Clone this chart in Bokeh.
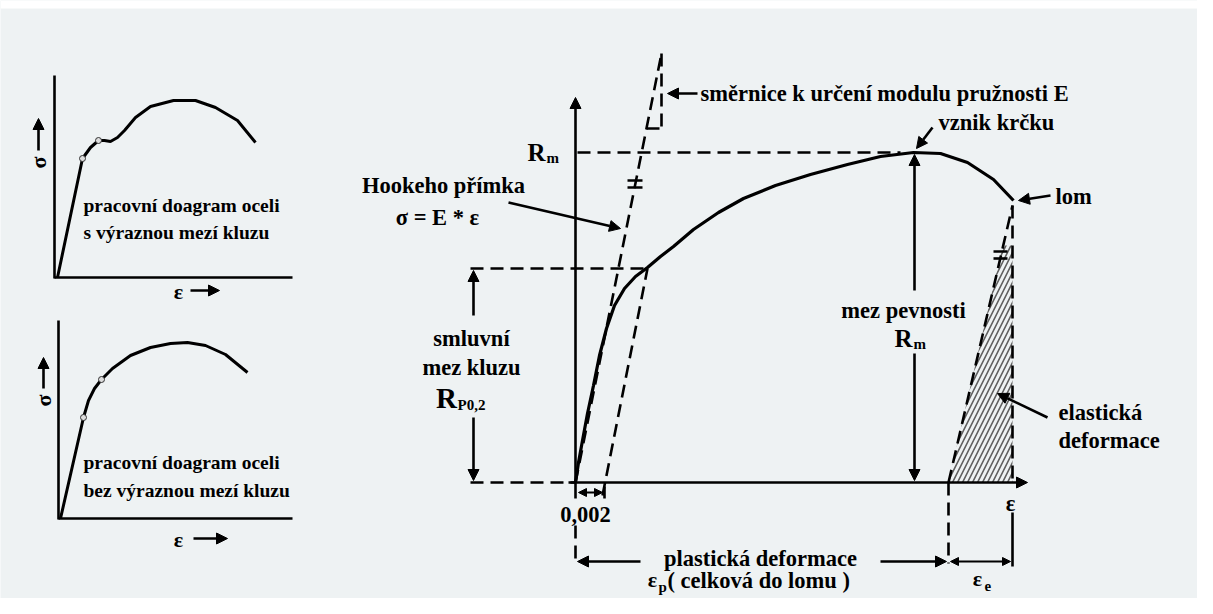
import math
from bokeh.plotting import figure
from bokeh.models import Range1d, Arrow, NormalHead, ColumnDataSource
from bokeh.core.properties import value
from bokeh.embed import file_html
from bokeh.resources import INLINE

# ---------------- data (diagram coordinates, y grows downwards) ----------------
# small diagram 1: steel with distinct yield point
tl_x = [57, 82, 90, 98, 104, 110, 117, 124, 135, 150, 173, 195, 215, 237, 255]
tl_y = [277, 158, 147, 140, 140, 141, 137, 130, 117, 106, 100, 100, 107, 120, 142]
tl_marks_x = [82, 98]
tl_marks_y = [158, 140]
# small diagram 2: steel without distinct yield point
bl_x = [60, 83, 88, 94, 101, 112, 130, 150, 170, 187, 205, 225, 247]
bl_y = [518, 417, 400, 388, 379, 368, 355, 347, 343, 342, 345, 354, 372]
bl_marks_x = [83, 101]
bl_marks_y = [417, 379]
# main stress-strain curve
mc_x = [575, 578, 582, 587, 593, 599, 606, 614, 624, 635, 647, 660, 673, 693, 718,
        743, 775, 810, 847, 880, 913, 940, 967, 993, 1013]
mc_y = [482, 462, 440, 413, 385, 355, 328, 305, 288, 276, 267, 256, 246, 229, 212,
        198, 185, 174, 164, 156, 152, 153, 162, 179, 200]
# dashed construction lines
dash_x0 = [577, 470, 470, 575, 661, 646, 602, 948, 1012, 575, 948]
dash_y0 = [152, 268, 482, 482, 53, 128, 495, 482, 205, 525, 482]
dash_x1 = [900, 647, 575, 661, 661, 661, 647, 1012, 1012, 575, 948]
dash_y1 = [152, 268, 482, 53, 128, 128, 268, 205, 482, 563, 563]
# solid short lines (axes of small diagrams, ticks, marks)
sol_x0 = [54, 54, 58, 58, 604, 1012, 627, 627, 993, 993, 575]
sol_y0 = [75, 277, 320, 518, 486, 512, 180, 187, 251, 258, 482]
sol_x1 = [54, 292, 58, 292, 604, 1012, 642, 642, 1007, 1007, 575]
sol_y1 = [278, 277, 519, 518, 498, 566, 180, 187, 251, 258, 498]
# single-headed arrows (head at the end)
ar_x0 = [575, 568, 473, 473, 914, 914, 697, 508, 932, 1050, 1047, 640, 880, 38, 43, 190, 193]
ar_y0 = [482, 482, 315, 417, 290, 353, 93, 202, 127, 195, 417, 561, 561, 150, 388, 290, 538]
ar_x1 = [575, 1027, 473, 473, 914, 914, 667, 620, 916, 1018, 997, 577, 946, 38, 43, 219, 227]
ar_y1 = [97, 482, 270, 480, 154, 480, 93, 228, 148, 200, 393, 561, 561, 118, 357, 290, 538]
# double-headed arrows
dar_x0 = [950, 578]
dar_y0 = [561, 492]
dar_x1 = [1010, 602]
dar_y1 = [561, 492]
# hatched elastic region
hatch_x = [948, 1012, 1012, 1002]
hatch_y = [482, 482, 245, 245]

# ---------------- texts ----------------
txt_left = ["pracovní doagram oceli", "s výraznou mezí kluzu",
            "pracovní doagram oceli", "bez výraznou mezí kluzu"]
txt_left_x = [83, 83, 83, 83]
txt_left_y = [205, 232, 462, 490]

lbl_left = ["směrnice k určení modulu pružnosti E", "vznik krčku", "lom",
            "elastická", "deformace", "( celková do lomu )"]
lbl_left_x = [700, 938, 1055, 1058, 1058, 667]
lbl_left_y = [93, 122, 196, 412, 440, 580]

lbl_c = ["Hookeho přímka", "σ = E * ε", "smluvní", "mez kluzu", "mez pevnosti",
         "plastická deformace", "0,002", "ε"]
lbl_c_x = [443, 437, 471, 471, 903, 760, 585, 1010]
lbl_c_y = [185, 217, 338, 367, 310, 558, 514, 503]

big_sym = ["R", "R", "R", "ε", "ε"]
big_sym_x = [536, 903, 446, 652, 977]
big_sym_y = [152, 338, 397, 579, 578]
big_sym_size = ["25px", "25px", "29px", "22px", "22px"]
sub_sym = ["m", "m", "P0,2", "p", "e"]
sub_sym_x = [546, 913, 457, 658, 984]
sub_sym_y = [157, 343, 404, 586, 585]

axis_sym = ["σ", "σ", "ε", "ε"]
axis_sym_x = [38, 43, 178, 178]
axis_sym_y = [162, 400, 291, 539]
axis_sym_angle = [math.pi / 2, math.pi / 2, 0, 0]

# white strip at the very top of the picture
strip_top = [0]
strip_bottom = [8]

# ---------------- figure ----------------
BG = "#eef2f3"
FONT = value("Liberation Serif")
W, H = 1197, 598
p = figure(width=W, height=H, output_backend="svg", toolbar_location=None,
           x_range=Range1d(0, W), y_range=Range1d(H, 0), min_border=0)
p.axis.visible = False
p.grid.visible = False
p.outline_line_color = None
p.background_fill_color = BG
p.border_fill_color = BG

p.quad(left=[0], right=[W], top=strip_top, bottom=strip_bottom,
       fill_color="white", line_color=None)

p.patch(hatch_x, hatch_y, fill_alpha=0, line_color=None, hatch_pattern="/",
        hatch_color="#5e5e5e", hatch_scale=10, hatch_weight=1.6)

p.segment(dash_x0, dash_y0, dash_x1, dash_y1, line_color="black", line_width=2.6,
          line_dash="13 7")
p.segment(sol_x0, sol_y0, sol_x1, sol_y1, line_color="black", line_width=2.6)

p.line(tl_x, tl_y, line_color="black", line_width=3)
p.line(bl_x, bl_y, line_color="black", line_width=3)
p.line(mc_x, mc_y, line_color="black", line_width=3.2)
p.scatter(tl_marks_x + bl_marks_x, tl_marks_y + bl_marks_y, size=6,
          fill_color="#dddddd", line_color="#333333", line_width=1)

src = ColumnDataSource(dict(x0=ar_x0, y0=ar_y0, x1=ar_x1, y1=ar_y1))
p.add_layout(Arrow(source=src, x_start="x0", y_start="y0", x_end="x1", y_end="y1",
                   line_width=2.6, line_color="black",
                   end=NormalHead(size=11, fill_color="black", line_color="black")))
dsrc = ColumnDataSource(dict(x0=dar_x0, y0=dar_y0, x1=dar_x1, y1=dar_y1))
p.add_layout(Arrow(source=dsrc, x_start="x0", y_start="y0", x_end="x1", y_end="y1",
                   line_width=2.2, line_color="black",
                   start=NormalHead(size=8, fill_color="black", line_color="black"),
                   end=NormalHead(size=8, fill_color="black", line_color="black")))

common = dict(text_font=FONT, text_font_style="bold", text_color="black",
              text_baseline="middle")
p.text(txt_left_x, txt_left_y, txt_left, text_align="left", text_font_size="19.5px", **common)
p.text(lbl_left_x, lbl_left_y, lbl_left, text_align="left", text_font_size="22.5px", **common)
p.text(lbl_c_x, lbl_c_y, lbl_c, text_align="center", text_font_size="22.5px", **common)
p.text(x="x", y="y", text="t", text_font_size="s", text_align="center",
       source=ColumnDataSource(dict(x=big_sym_x, y=big_sym_y, t=big_sym, s=big_sym_size)),
       **common)
p.text(sub_sym_x, sub_sym_y, sub_sym, text_align="left", text_font_size="15px", **common)
p.text(axis_sym_x, axis_sym_y, axis_sym, angle=axis_sym_angle, text_align="center",
       text_font_size="22px", **common)

open("out.html", "w").write(file_html(p, INLINE))
